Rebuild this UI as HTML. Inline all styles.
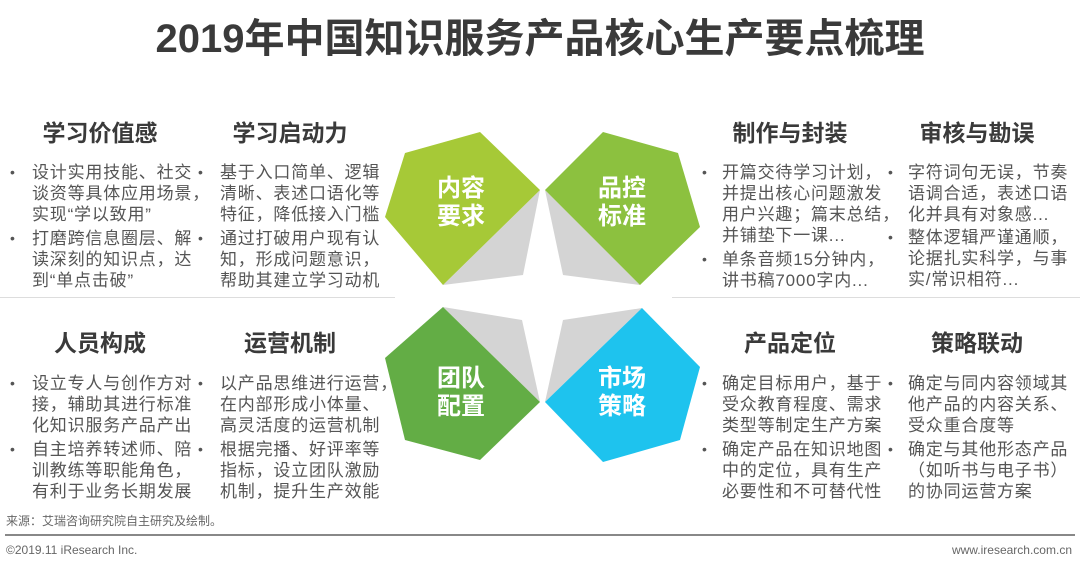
<!DOCTYPE html>
<html><head><meta charset="utf-8"><style>
*{margin:0;padding:0;box-sizing:border-box}
body{width:1080px;height:570px;background:#fff;position:relative;overflow:hidden;font-family:"Liberation Sans","Noto Sans CJK SC",sans-serif;color:#555}
.t{position:absolute;left:0;width:1080px;top:16px;text-align:center;font-size:40px;font-weight:bold;color:#3a3a3a;line-height:46px}
.h{position:absolute;width:200px;text-align:center;font-size:23px;font-weight:bold;color:#3a3a3a;line-height:28px}
.l{position:absolute;font-size:17px;line-height:21px;letter-spacing:0.8px;white-space:nowrap;color:#555}
.d{position:absolute;font-size:14px;line-height:21px;color:#555}
.sep{position:absolute;height:1px;background:#ddd}
</style></head><body>
<div class="t">2019年中国知识服务产品核心生产要点梳理</div>

<svg style="position:absolute;left:0;top:0" width="1080" height="570">
<polygon points="540,190 523,275 443,285" fill="#d4d4d4"/>
<polygon points="545,190 563,275 640,285" fill="#d4d4d4"/>
<polygon points="443,307 522,320 540,402" fill="#d4d4d4"/>
<polygon points="642,308 563,320 545,402" fill="#d4d4d4"/>
<polygon points="480,132 405,153 385,217 443,285 540,190" fill="#a6c937"/>
<polygon points="603,132 678,153 700,227 640,285 545,190" fill="#8cc13f"/>
<polygon points="443,307 385,358 405,440 480,460 540,402" fill="#63ad45"/>
<polygon points="642,308 700,367 680,440 603,462 545,402" fill="#1ec3ee"/>
<g font-family="Liberation Sans,Noto Sans CJK SC,sans-serif" font-weight="bold" font-size="24" fill="#fff" text-anchor="middle">
<text x="461" y="196">内容</text><text x="461" y="224">要求</text>
<text x="622" y="196">品控</text><text x="622" y="224">标准</text>
<text x="461" y="386">团队</text><text x="461" y="414">配置</text>
<text x="622" y="386">市场</text><text x="622" y="414">策略</text>
</g>
</svg>

<div class="sep" style="left:0;width:395px;top:297px"></div>
<div class="sep" style="left:672px;width:408px;top:297px"></div>

<div class="h" style="left:0;top:119px">学习价值感</div>
<div class="h" style="left:190px;top:119px">学习启动力</div>
<div class="h" style="left:690px;top:119px">制作与封装</div>
<div class="h" style="left:877px;top:119px">审核与勘误</div>
<div class="h" style="left:0;top:329px">人员构成</div>
<div class="h" style="left:190px;top:329px">运营机制</div>
<div class="h" style="left:690px;top:329px">产品定位</div>
<div class="h" style="left:877px;top:329px">策略联动</div>

<div class="d" style="left:10px;top:162px">•</div>
<div class="l" style="left:32px;top:162px">设计实用技能、社交</div>
<div class="l" style="left:32px;top:183px">谈资等具体应用场景，</div>
<div class="l" style="left:32px;top:204px">实现“学以致用”</div>
<div class="d" style="left:10px;top:228px">•</div>
<div class="l" style="left:32px;top:228px">打磨跨信息圈层、解</div>
<div class="l" style="left:32px;top:249px">读深刻的知识点，达</div>
<div class="l" style="left:32px;top:270px">到“单点击破”</div>
<div class="d" style="left:198px;top:162px">•</div>
<div class="l" style="left:220px;top:162px">基于入口简单、逻辑</div>
<div class="l" style="left:220px;top:183px">清晰、表述口语化等</div>
<div class="l" style="left:220px;top:204px">特征，降低接入门槛</div>
<div class="d" style="left:198px;top:228px">•</div>
<div class="l" style="left:220px;top:228px">通过打破用户现有认</div>
<div class="l" style="left:220px;top:249px">知，形成问题意识，</div>
<div class="l" style="left:220px;top:270px">帮助其建立学习动机</div>
<div class="d" style="left:702px;top:162px">•</div>
<div class="l" style="left:722px;top:162px">开篇交待学习计划，</div>
<div class="l" style="left:722px;top:183px">并提出核心问题激发</div>
<div class="l" style="left:722px;top:204px">用户兴趣；篇末总结，</div>
<div class="l" style="left:722px;top:225px">并铺垫下一课...</div>
<div class="d" style="left:702px;top:249px">•</div>
<div class="l" style="left:722px;top:249px">单条音频15分钟内，</div>
<div class="l" style="left:722px;top:270px">讲书稿7000字内...</div>
<div class="d" style="left:888px;top:162px">•</div>
<div class="l" style="left:908px;top:162px">字符词句无误，节奏</div>
<div class="l" style="left:908px;top:183px">语调合适，表述口语</div>
<div class="l" style="left:908px;top:204px">化并具有对象感...</div>
<div class="d" style="left:888px;top:227px">•</div>
<div class="l" style="left:908px;top:227px">整体逻辑严谨通顺，</div>
<div class="l" style="left:908px;top:248px">论据扎实科学，与事</div>
<div class="l" style="left:908px;top:269px">实/常识相符...</div>

<div class="d" style="left:10px;top:373px">•</div>
<div class="l" style="left:32px;top:373px">设立专人与创作方对</div>
<div class="l" style="left:32px;top:394px">接，辅助其进行标准</div>
<div class="l" style="left:32px;top:415px">化知识服务产品产出</div>
<div class="d" style="left:10px;top:439px">•</div>
<div class="l" style="left:32px;top:439px">自主培养转述师、陪</div>
<div class="l" style="left:32px;top:460px">训教练等职能角色，</div>
<div class="l" style="left:32px;top:481px">有利于业务长期发展</div>
<div class="d" style="left:198px;top:373px">•</div>
<div class="l" style="left:220px;top:373px">以产品思维进行运营，</div>
<div class="l" style="left:220px;top:394px">在内部形成小体量、</div>
<div class="l" style="left:220px;top:415px">高灵活度的运营机制</div>
<div class="d" style="left:198px;top:439px">•</div>
<div class="l" style="left:220px;top:439px">根据完播、好评率等</div>
<div class="l" style="left:220px;top:460px">指标，设立团队激励</div>
<div class="l" style="left:220px;top:481px">机制，提升生产效能</div>
<div class="d" style="left:702px;top:373px">•</div>
<div class="l" style="left:722px;top:373px">确定目标用户，基于</div>
<div class="l" style="left:722px;top:394px">受众教育程度、需求</div>
<div class="l" style="left:722px;top:415px">类型等制定生产方案</div>
<div class="d" style="left:702px;top:439px">•</div>
<div class="l" style="left:722px;top:439px">确定产品在知识地图</div>
<div class="l" style="left:722px;top:460px">中的定位，具有生产</div>
<div class="l" style="left:722px;top:481px">必要性和不可替代性</div>
<div class="d" style="left:888px;top:373px">•</div>
<div class="l" style="left:908px;top:373px">确定与同内容领域其</div>
<div class="l" style="left:908px;top:394px">他产品的内容关系、</div>
<div class="l" style="left:908px;top:415px">受众重合度等</div>
<div class="d" style="left:888px;top:439px">•</div>
<div class="l" style="left:908px;top:439px">确定与其他形态产品</div>
<div class="l" style="left:908px;top:460px">（如听书与电子书）</div>
<div class="l" style="left:908px;top:481px">的协同运营方案</div>

<div style="position:absolute;left:6px;top:513px;font-size:12px;color:#666;line-height:16px">来源：艾瑞咨询研究院自主研究及绘制。</div>
<div style="position:absolute;left:5px;top:534px;width:1070px;height:2px;background:#888"></div>
<div style="position:absolute;left:6px;top:542px;font-size:12px;color:#666;line-height:16px">©2019.11 iResearch Inc.</div>
<div style="position:absolute;right:8px;top:542px;font-size:12px;color:#666;line-height:16px">www.iresearch.com.cn</div>
</body></html>
